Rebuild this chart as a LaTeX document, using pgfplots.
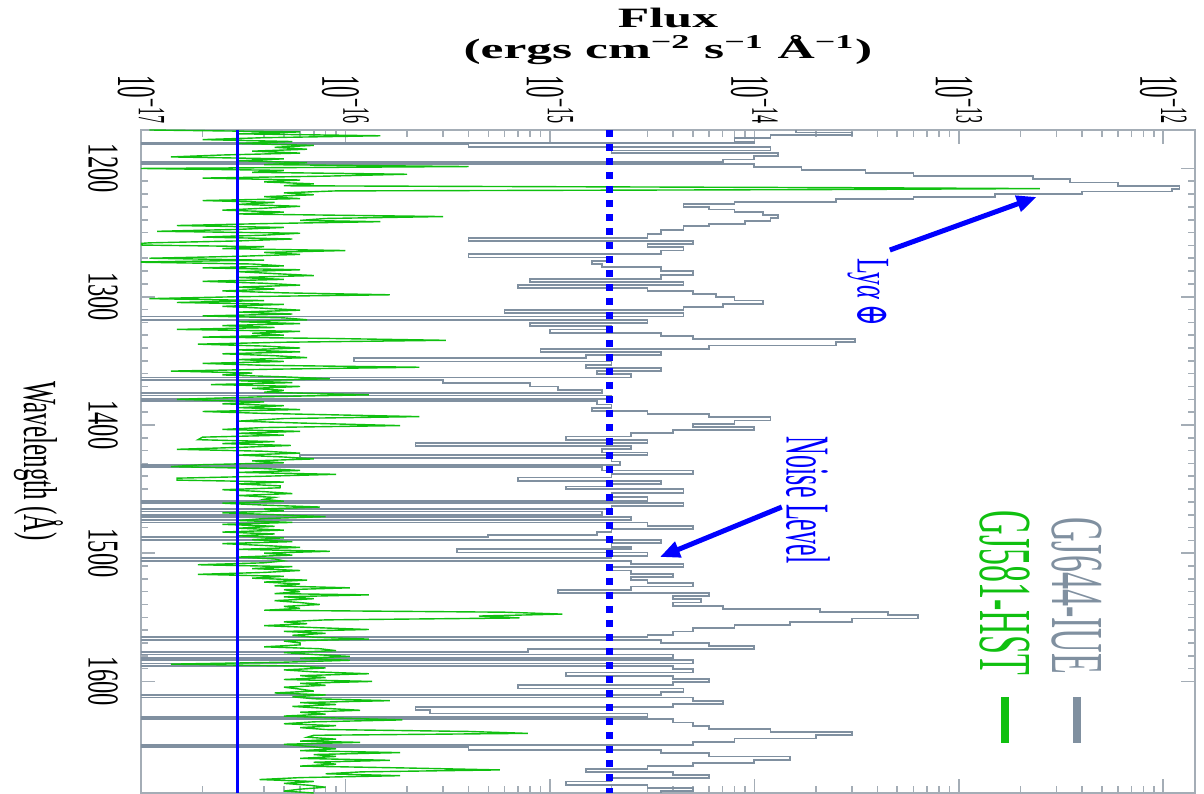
\documentclass[border=0pt]{standalone}
\usepackage{pgfplots}
\pgfplotsset{compat=1.18}
\usepackage{fontspec}
\setmainfont{Liberation Serif}
\newfontfamily\dejavu{DejaVu Serif}
\usetikzlibrary{arrows.meta}
\definecolor{iuegray}{HTML}{8090A0}
\definecolor{hstgreen}{HTML}{10C010}
\definecolor{axgray}{HTML}{A4ADB6}
% fluxes in units of 1e-17 erg cm^-2 s^-1 A^-1
\pgfplotstableread{
lam f
1170 1600
1172 3000
1174 1200
1176 800
1179 1000
1180 0.1
1181 40
1183.5 1200
1186 200
1188 1300
1190 1000
1193 700
1195 0.1
1196.5 1000
1199 1700
1201 3500
1203.5 6000
1206 23000
1208.5 35000
1211 60000
1213.5 120000
1216 110000
1218 40000
1220 15000
1222 6000
1224 2500
1226 800
1228 450
1230 600
1232 800
1234 1100
1236 1300
1238.5 1200
1241 900
1243 600
1245 450
1248 350
1251 300
1254 40
1256.5 500
1259 300
1261.5 450
1264 350
1267 40
1269.5 200
1272 160
1274.5 180
1277 350
1280 500
1283 350
1286 80
1288.5 450
1291 70
1293 300
1295.5 500
1298 650
1300.5 800
1303 1100
1305.5 700
1308 450
1310.5 60
1313 450
1315.5 0.1
1318 300
1320.5 80
1323 200
1325.5 100
1328 350
1330.5 500
1333 3100
1335.5 2500
1338 600
1340.5 90
1343 350
1345.5 150
1348 11
1350.5 200
1353 150
1355.5 350
1358 170
1360.5 250
1363 0.1
1365 30
1367.5 80
1370 110
1372.5 180
1375 0.1
1377 200
1379.5 0.1
1381.5 170
1384 200
1386.5 160
1389 300
1391.5 600
1394 1200
1396.5 800
1399 500
1401.5 1000
1404 400
1406.5 250
1409 120
1411.5 300
1414 22
1416.5 250
1419 180
1421.5 300
1423.5 6
1426 200
1428.5 220
1431 0.1
1433 180
1435.5 500
1438 200
1441 70
1443.5 350
1446 200
1448 120
1450 450
1453 200
1456 300
1459 0.1
1461 450
1463.5 200
1465.5 0.1
1467.5 180
1470 0.1
1472 250
1474 0.1
1476 300
1478.5 500
1481 200
1483.5 170
1486 50
1487.5 0.1
1489.5 350
1492 200
1495 250
1497 35
1499.5 300
1502 200
1504 0.1
1506 250
1508.5 450
1511 200
1513.5 250
1516 400
1518.5 250
1521 300
1523.5 500
1526 250
1528.5 110
1531 600
1533.5 400
1536 550
1538.5 400
1541 700
1543.5 2100
1546 4500
1548.5 6300
1551 3000
1553.5 1500
1556 800
1558.5 500
1561 400
1563.5 300
1565.5 0.1
1567.5 350
1570 600
1572.5 1000
1575 78
1577 0.1
1579 400
1581.5 0.1
1583.5 500
1586 0.1
1588 400
1590.5 500
1593 120
1595.5 400
1598 600
1600.5 400
1603 70
1605.5 450
1608 350
1610.5 0.1
1612.5 500
1615 700
1617.5 400
1620 22
1622.5 26
1625 300
1627.5 0.1
1629.5 400
1632 500
1634.5 600
1637 1200
1639.5 3000
1642 2000
1644.5 800
1647 500
1649.5 0.1
1651 40
1653.5 350
1656 600
1658.5 1500
1661 1000
1663.5 500
1666 300
1668 150
1670.5 400
1673 600
1675.5 200
1678 120
1680.5 300
1683 500
1685.5 350
1687 350
}\iuedata
\pgfplotstableread{
lam f
1170 1.1
1171.5 6.0
1173 3.0
1174.5 14.8
1176 4.0
1177.5 2.0
1179 5.5
1180.5 3.0
1182 7.0
1183.5 4.5
1185 6.5
1186.5 3.5
1188 6.0
1189.5 2.5
1191 1.4
1192.5 5.0
1194 3.0
1195.5 6.5
1197 4.0
1198.5 40
1200 1.0
1201.5 5.0
1203 3.5
1204.5 20
1206 8.0
1207.5 2.0
1209 6.0
1210.5 4.0
1212 7.0
1213.5 5.0
1215 3000
1215.7 24900
1216.5 2000
1217.5 9.0
1219 5.0
1220.5 7.0
1222 4.0
1223.5 6.0
1225 2.0
1226.5 4.5
1228 3.0
1229.5 6.0
1231 4.0
1232.5 2.5
1234 5.0
1235.5 3.0
1237.5 30
1239 8.0
1240.5 6.0
1241.5 14.8
1243 4.0
1244.5 1.5
1246 5.0
1247.5 3.0
1249 1.2
1250.5 6.0
1252 4.0
1253.5 2.0
1255 5.5
1256.5 3.0
1258 1.1
1259.5 0.8
1261 4.0
1262.5 2.5
1264 10
1265.5 4.0
1267 6.0
1268.5 3.0
1270 1.1
1271.5 4.0
1273 0.9
1274.5 3.5
1276 5.0
1277.5 2.0
1279 6.0
1280.5 3.0
1282 4.5
1283.5 7.0
1285 3.0
1286.5 5.0
1288 2.0
1289.5 4.0
1291 6.0
1292.5 3.0
1294 4.5
1295.5 2.5
1297 5.0
1298.5 16.5
1300 3.0
1301.5 1.1
1303 4.0
1304.5 1.5
1306 5.0
1307.5 2.5
1309 4.0
1310.5 6.0
1312 3.0
1313.5 5.5
1315 2.0
1316.5 5.0
1318 6.5
1319.5 3.0
1321 6.0
1322.5 2.5
1324 4.5
1325.5 1.5
1327 6.0
1328.5 3.5
1330 5.0
1331.5 2.0
1332.5 8.0
1334 31
1335.5 5.0
1337 1.9
1338.5 4.0
1340 6.0
1341.5 3.0
1343 6.0
1344.5 2.5
1346 4.5
1347.5 6.5
1349 3.0
1350.5 5.0
1352 2.0
1353.5 4.0
1355 23
1356.5 4.5
1358 1.4
1359.5 3.5
1361 2.5
1362.5 5.0
1364 8.4
1365.5 3.0
1367 5.5
1368.5 2.2
1370 6.0
1371.5 3.5
1373 5.0
1374.5 4.0
1376.5 13
1378 4.0
1380 1.5
1382 4.0
1383.5 2.5
1385 5.0
1386.5 3.0
1388 6.0
1389.5 2.0
1391 4.0
1393.5 23
1395 5.0
1397 3.0
1398.5 6.0
1400.5 18.5
1402 4.0
1403.5 2.5
1405 6.0
1406.5 3.0
1408 5.0
1409.5 2.0
1411.5 1.9
1413 4.5
1414.5 2.5
1416 5.4
1417.5 3.0
1419 1.5
1420.5 4.0
1422 6.0
1423.5 3.0
1425 5.0
1426.5 7.0
1428 3.5
1429.5 5.0
1431 2.0
1432.5 1.4
1434 4.0
1435.5 6.0
1437 3.0
1438.5 9.0
1440 4.0
1441.5 1.5
1443 1.5
1444.5 5.0
1446 3.0
1447.5 4.8
1449 4.8
1450.5 2.5
1452 4.0
1453.5 5.5
1455 3.0
1456.5 4.5
1458 4.0
1459.5 5.0
1461 2.5
1462.5 4.0
1464 7.5
1465.5 4.0
1467 5.0
1468.5 2.5
1470 4.5
1471.5 8.0
1473 4.0
1474.5 3.0
1476 5.5
1477.5 2.5
1479 4.5
1480.5 3.0
1482 5.0
1483.5 2.5
1485 4.5
1486.5 3.0
1488 5.0
1489.5 3.5
1491 5.5
1492.5 2.5
1494 4.0
1495.5 6.0
1497 3.0
1498.5 8.4
1500 4.0
1501.5 5.5
1503 3.0
1504.5 4.5
1506 5.0
1507.5 4.0
1509 1.9
1510.5 5.5
1512 3.5
1513.5 6.0
1515 4.0
1516.5 1.9
1518 5.0
1519.5 3.5
1521 6.5
1522.5 4.0
1524 6.0
1525.5 4.5
1527 10.5
1528.5 5.0
1530 6.0
1531.5 4.5
1532.5 13
1534 5.0
1535.5 7.0
1537 4.5
1538.5 6.0
1540 7.5
1541.5 5.0
1543 6.0
1544.5 4.0
1546 60
1547.5 115
1549 45
1550.5 71
1552 8.0
1553.5 5.0
1555 6.5
1556.5 4.0
1558 7.0
1559.5 13
1561 5.0
1562.5 8.0
1564 5.5
1565.5 7.0
1567 13
1568.5 5.0
1570 6.0
1571.5 6.0
1573 4.0
1574.5 7.5
1576 9.0
1577.5 5.0
1579 7.0
1580.5 10.5
1582 6.0
1583.5 10.5
1585 5.0
1586.5 1.4
1588 6.0
1589.5 8.0
1591 5.0
1592.5 7.0
1594 13
1595.5 6.0
1597 8.0
1598.5 5.0
1600 13.5
1601.5 6.0
1603 8.0
1604.5 5.0
1606 6.0
1607.5 7.0
1609 4.5
1610.5 8.0
1612 5.5
1613.5 7.0
1615 16.5
1616.5 6.0
1618 9.0
1619.5 5.5
1621 8.0
1622.5 11.8
1624 6.0
1625.5 8.0
1627 5.0
1628.5 9.0
1630 19
1631.5 7.0
1633 5.0
1634.5 9.0
1636 6.0
1637.5 8.0
1639 40
1640.5 78
1642 7.0
1643.5 6.5
1645 9.0
1646.5 6.0
1647.5 11.8
1649 5.0
1651 7.0
1652.5 9.0
1654 6.0
1655.5 18.5
1657 7.0
1658.5 9.0
1660 6.0
1661.5 16.5
1663 7.0
1664.5 9.0
1666 6.0
1667.5 20
1669 57
1670.5 12
1672 8.0
1673.5 18.5
1675 6.0
1676.5 3.8
1678 7.0
1679.5 5.0
1681 6.7
1682.5 8.0
1684 6.0
1685.5 5.0
1687 7.0
}\hstdata
\begin{document}
\begin{tikzpicture}
\begin{scope}[shift={(70.5pt,331.5pt)}, rotate=-90, transform shape]
\begin{axis}[
  at={(0,0)}, anchor=south west,
  scale only axis, width=331.5pt, height=527pt,
  xmin=1170, xmax=1687,
  ymode=log, ymin=1, ymax=1.43e5,
  clip mode=individual,
  axis line style={axgray, line width=1pt},
  every tick/.style={axgray, line width=0.8pt},
  major tick length=7pt, minor tick length=3.5pt,
  xtick={1200,1300,1400,1500,1600},
  xticklabels={\scalebox{1}[1.8]{1200},\scalebox{1}[1.8]{1300},\scalebox{1}[1.8]{1400},\scalebox{1}[1.8]{1500},\scalebox{1}[1.8]{1600}},
  minor x tick num=9,
  xticklabel style={anchor=north, font=\fontsize{12.25}{13}\selectfont, text=black},
  xticklabel shift=8pt,
  ytick={1,10,100,1000,10000,100000},
  yticklabels={\scalebox{1}[2.4]{10\textsuperscript{−17}},\scalebox{1}[2.4]{10\textsuperscript{−16}},\scalebox{1}[2.4]{10\textsuperscript{−15}},\scalebox{1}[2.4]{10\textsuperscript{−14}},\scalebox{1}[2.4]{10\textsuperscript{−13}},\scalebox{1}[2.4]{10\textsuperscript{−12}}},
  yticklabel style={anchor=east, inner sep=2.5pt, font=\fontsize{11.5}{12}\selectfont, text=black},
]
\addplot[const plot mark left, iuegray, line width=0.9pt] table[x=lam, y=f] {\iuedata};
\addplot[hstgreen, line width=0.7pt] table[x=lam, y=f] {\hstdata};
\addplot[blue, line width=1.6pt] coordinates {(1170,2.97) (1687,2.97)};
\addplot[blue, line width=3.5pt, dash pattern=on 3.5pt off 3.5pt] coordinates {(1170,196) (1687,196)};
% annotations
\draw[blue, line width=2.5pt, -{Triangle[length=10pt, width=8pt]}] (axis cs:1263.6,4600) -- (axis cs:1222.2,24050);
\draw[blue, line width=2.5pt, -{Triangle[length=10pt, width=8pt]}] (axis cs:1464,1362) -- (axis cs:1503,345);
\node[blue, font=\fontsize{13}{13}\selectfont] at (axis cs:1296.3,3590) {\scalebox{1}[1.8]{Ly\textit{α}\,{\dejavu ⊕}}};
\node[blue, font=\fontsize{13}{13}\selectfont] at (axis cs:1458.6,1827) {\scalebox{1}[2.4]{Noise Level}};
% legend
\node[anchor=west, text=iuegray, inner sep=0pt, font=\fontsize{17}{17}\selectfont] at (axis cs:1471.8,37760) {\scalebox{1}[2.2]{GJ644-IUE}};
\node[anchor=west, text=hstgreen, inner sep=0pt, font=\fontsize{17}{17}\selectfont] at (axis cs:1466.4,16790) {\scalebox{1}[2.2]{GJ581-HST}};
\draw[iuegray, line width=4pt] (axis cs:1612,37760) -- (axis cs:1648,37760);
\draw[hstgreen, line width=4pt] (axis cs:1612,16790) -- (axis cs:1648,16790);
% axis titles (two separate lines)
\node[rotate=90, font=\bfseries\fontsize{14}{14}\selectfont, inner sep=0pt] at (axis cs:1083,378)
  {\scalebox{1.84}[1]{Flux}};
\node[rotate=90, font=\bfseries\fontsize{14}{14}\selectfont, inner sep=0pt] at (axis cs:1107.5,378)
  {\scalebox{1.84}[1]{(ergs cm\textsuperscript{−2} s\textsuperscript{−1} Å\textsuperscript{−1})}};
\node[font=\fontsize{12.5}{13}\selectfont] at (axis cs:1428.2,0.315) {\scalebox{1}[1.9]{Wavelength (Å)}};
\end{axis}
\end{scope}
\pgfresetboundingbox
\useasboundingbox (0,0) rectangle (602pt,396.5pt);
\end{tikzpicture}
\end{document}
